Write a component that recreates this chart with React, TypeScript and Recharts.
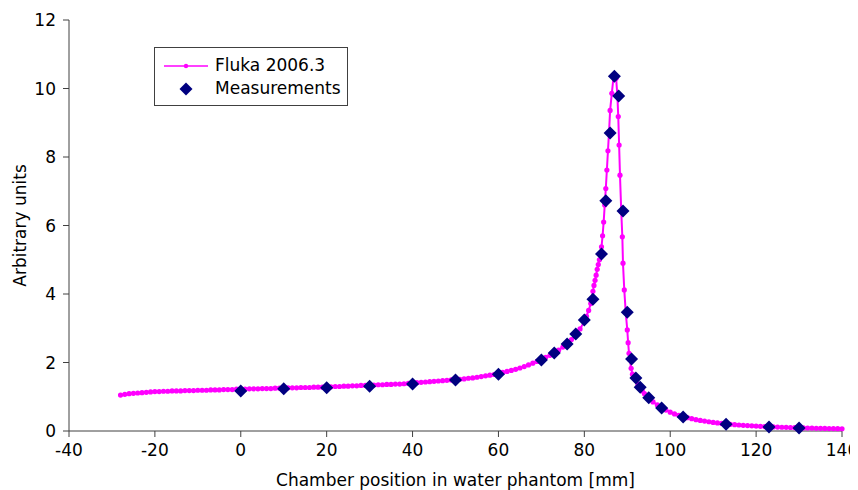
import { ScatterChart, Scatter, XAxis, YAxis, Legend } from "recharts";

// Fluka 2006.3 simulation: chamber position [mm] and dose [arbitrary units]
const flukaPos = [
  -28, -27, -26, -25, -24, -23, -22, -21, -20, -19, -18, -17, -16, -15, -14, -13, -12, -11, -10, -9,
  -8, -7, -6, -5, -4, -3, -2, -1, 0, 1, 2, 3, 4, 5, 6, 7, 8, 9, 10, 11,
  12, 13, 14, 15, 16, 17, 18, 19, 20, 21, 22, 23, 24, 25, 26, 27, 28, 29, 30, 31,
  32, 33, 34, 35, 36, 37, 38, 39, 40, 41, 42, 43, 44, 45, 46, 47, 48, 49, 50, 51,
  52, 53, 54, 55, 56, 57, 58, 59, 60, 61, 62, 63, 64, 65, 66, 67, 68, 69, 70, 71,
  72, 73, 74, 75, 76, 77, 78, 79, 80, 80.5, 81, 81.5, 81.75, 82, 82.25, 82.5, 82.75, 83, 83.25, 83.5,
  83.75, 84, 84.25, 84.5, 84.75, 85, 85.25, 85.5, 85.75, 86, 86.4, 86.8, 87.4, 87.7, 87.9, 88.1, 88.3, 88.6, 88.85, 89,
  89.3, 89.65, 90, 90.2, 90.4, 90.6, 90.9, 91.2, 91.5, 92, 92.5, 93, 93.5, 94, 95, 96, 97, 98, 99, 100,
  101, 102, 103, 104, 105, 106, 107, 108, 109, 110, 111, 112, 113, 114, 115, 116, 117, 118, 119, 120,
  121, 122, 123, 124, 125, 126, 127, 128, 129, 130, 131, 132, 133, 134, 135, 136, 137, 138, 139, 140,
];
const flukaDose = [
  1.05, 1.07, 1.09, 1.1, 1.11, 1.12, 1.13, 1.14, 1.15, 1.15, 1.16, 1.16, 1.17, 1.17, 1.17, 1.18, 1.18, 1.18, 1.19, 1.19,
  1.19, 1.2, 1.2, 1.2, 1.21, 1.21, 1.21, 1.22, 1.22, 1.22, 1.23, 1.23, 1.23, 1.24, 1.24, 1.24, 1.25, 1.25, 1.25, 1.26,
  1.26, 1.26, 1.27, 1.27, 1.27, 1.28, 1.28, 1.28, 1.29, 1.29, 1.3, 1.3, 1.31, 1.31, 1.32, 1.32, 1.33, 1.33, 1.34, 1.34,
  1.35, 1.35, 1.36, 1.36, 1.37, 1.37, 1.38, 1.39, 1.4, 1.41, 1.42, 1.43, 1.44, 1.45, 1.46, 1.47, 1.48, 1.49, 1.5, 1.51,
  1.52, 1.54, 1.55, 1.57, 1.59, 1.61, 1.63, 1.65, 1.68, 1.71, 1.74, 1.77, 1.8, 1.84, 1.88, 1.93, 1.98, 2.03, 2.09, 2.15,
  2.21, 2.28, 2.36, 2.45, 2.55, 2.67, 2.81, 2.98, 3.2, 3.35, 3.52, 3.72, 3.87, 4.08, 4.25, 4.4, 4.55, 4.72, 4.86, 5.0,
  5.15, 5.38, 5.7, 6.1, 6.6, 7.08, 7.62, 8.18, 8.72, 9.36, 9.86, 10.34, 10.3, 9.78, 9.18, 8.35, 7.47, 6.4, 5.67, 4.9,
  4.12, 3.45, 2.95, 2.58, 2.27, 2.09, 1.83, 1.66, 1.56, 1.48, 1.36, 1.26, 1.17, 1.09, 0.96, 0.85, 0.76, 0.68, 0.61, 0.55,
  0.5, 0.46, 0.42, 0.39, 0.36, 0.33, 0.31, 0.29, 0.27, 0.25, 0.235, 0.22, 0.205, 0.195, 0.185, 0.175, 0.165, 0.157, 0.15, 0.143,
  0.137, 0.13, 0.125, 0.12, 0.115, 0.11, 0.106, 0.102, 0.098, 0.094, 0.09, 0.087, 0.084, 0.081, 0.078, 0.075, 0.072, 0.07, 0.067, 0.065,
];

// Measurements
const measPos = [0, 10, 20, 30, 40, 50, 60, 70, 73, 76, 78, 80, 82, 84, 85, 86, 87, 88, 89, 90, 91, 92, 93, 95, 98, 103, 113, 123, 130];
const measDose = [
  1.17, 1.23, 1.26, 1.31, 1.37, 1.49, 1.66, 2.07, 2.28, 2.54, 2.83, 3.24, 3.85, 5.17, 6.72, 8.7, 10.36, 9.78, 6.42, 3.47,
  2.1, 1.55, 1.28, 0.97, 0.67, 0.41, 0.2, 0.12, 0.09,
];

const xTicks = [-40, -20, 0, 20, 40, 60, 80, 100, 120, 140];
const yTicks = [0, 2, 4, 6, 8, 10, 12];

const fluka = flukaPos.map((x, i) => ({ x, y: flukaDose[i] }));
const meas = measPos.map((x, i) => ({ x, y: measDose[i] }));

const MAGENTA = "#ff00ff";
const NAVY = "#000080";
const AXIS = "#404040";
const FONT = "'DejaVu Sans', sans-serif";
const FS = 17;

function FlukaDot(props: any) {
  const { cx, cy } = props;
  if (cx == null || cy == null) return null;
  return <circle cx={cx} cy={cy} r={2.6} fill={MAGENTA} />;
}

function Diamond(props: any) {
  const { cx, cy } = props;
  if (cx == null || cy == null) return null;
  const r = 6.5;
  return (
    <polygon
      points={`${cx},${cy - r} ${cx + r},${cy} ${cx},${cy + r} ${cx - r},${cy}`}
      fill={NAVY}
    />
  );
}

function LegendBox() {
  return (
    <div
      style={{
        position: "relative",
        width: 192,
        height: 57,
        border: `1px solid ${AXIS}`,
        background: "#fff",
        fontFamily: FONT,
        fontSize: FS,
        color: "#000",
      }}
    >
      <svg width={60} height={57} style={{ position: "absolute", left: 0, top: 0 }}>
        <line x1={9} y1={18} x2={53} y2={18} stroke={MAGENTA} strokeWidth={1.5} />
        <circle cx={31} cy={18} r={2.2} fill={MAGENTA} />
        <polygon points="31,34.5 37.5,41 31,47.5 24.5,41" fill={NAVY} />
      </svg>
      <span style={{ position: "absolute", left: 60, top: 7, lineHeight: "20px" }}>Fluka 2006.3</span>
      <span style={{ position: "absolute", left: 60, top: 30, lineHeight: "20px" }}>Measurements</span>
    </div>
  );
}

export default function App() {
  return (
    <div style={{ width: 850, height: 482 }}>
      <style>{".recharts-surface{overflow:visible}"}</style>
      <ScatterChart
        width={850}
        height={482}
        margin={{ top: 12, right: 16, left: 0, bottom: 0 }}
        style={{ fontFamily: FONT }}
      >
        <XAxis
          type="number"
          dataKey="x"
          domain={[-40, 140]}
          ticks={xTicks}
          height={59}
          tickSize={6}
          tickMargin={7}
          tick={{ fill: "#000", fontSize: FS, fontFamily: FONT }}
          stroke={AXIS}
          label={{
            value: "Chamber position in water phantom [mm]",
            position: "insideBottom",
            offset: 4,
            fill: "#000",
            fontSize: FS,
            fontFamily: FONT,
          }}
        />
        <YAxis
          type="number"
          dataKey="y"
          domain={[0, 12]}
          ticks={yTicks}
          width={61}
          tickSize={6}
          tickMargin={7}
          tick={{ fill: "#000", fontSize: FS, fontFamily: FONT }}
          stroke={AXIS}
          label={{
            value: "Arbitrary units",
            angle: -90,
            position: "insideLeft",
            offset: 12,
            fill: "#000",
            fontSize: FS,
            fontFamily: FONT,
            style: { textAnchor: "middle" },
          }}
        />
        <Legend
          layout="vertical"
          align="center"
          verticalAlign="middle"
          wrapperStyle={{ left: 146, top: 39, width: 194, height: 59 }}
          content={() => <LegendBox />}
        />
        <Scatter
          name="Fluka 2006.3"
          data={fluka}
          line={{ stroke: MAGENTA, strokeWidth: 2 }}
          lineType="joint"
          shape={<FlukaDot />}
          isAnimationActive={false}
        />
        <Scatter
          name="Measurements"
          data={meas}
          shape={<Diamond />}
          isAnimationActive={false}
        />
      </ScatterChart>
    </div>
  );
}
